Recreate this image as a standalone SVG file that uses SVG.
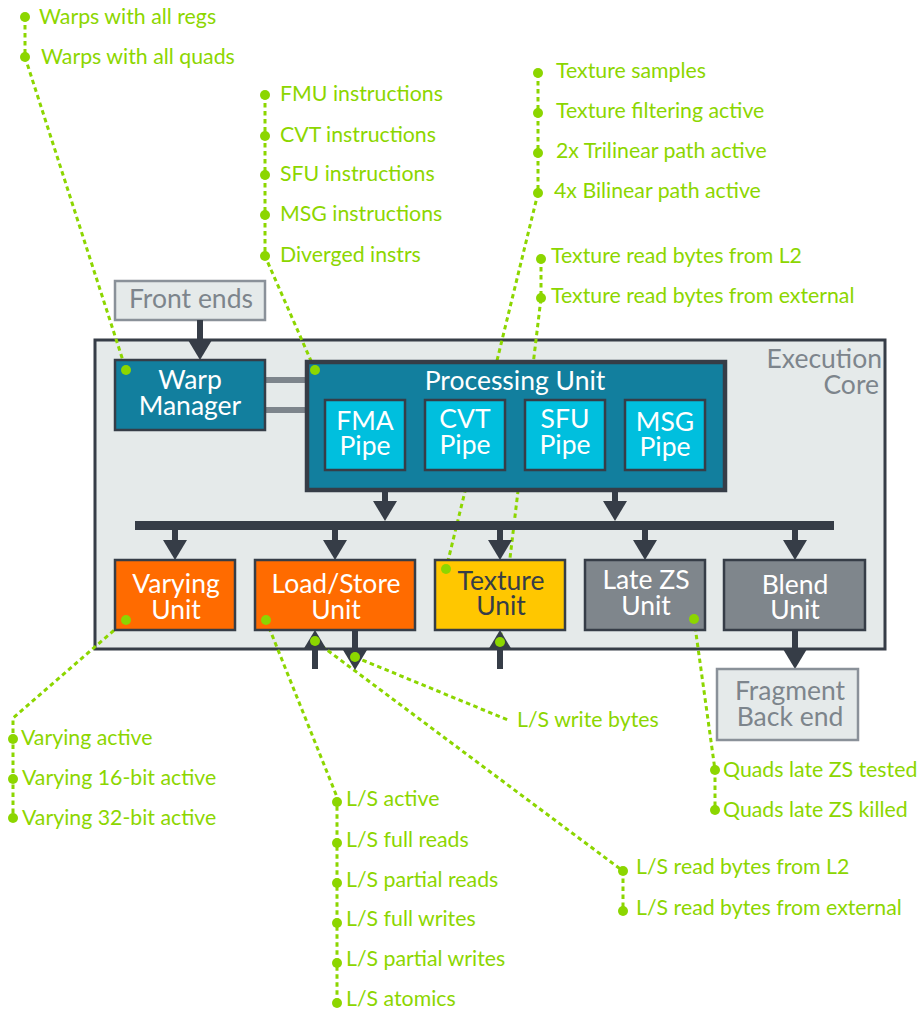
<svg xmlns="http://www.w3.org/2000/svg" width="918" height="1011" viewBox="0 0 918 1011">
<style>
.lbl{font-family:Lato,"Liberation Sans",sans-serif;font-size:21.3px;fill:#8cd600}
.bt{font-family:Lato,"Liberation Sans",sans-serif;font-size:26.5px;text-anchor:middle}
.w{fill:#ffffff}.g{fill:#7d858c}.d{fill:#363d47}
.lead{fill:none;stroke:#8cd600;stroke-width:3;stroke-dasharray:4.5 3.5}
.dot{fill:#8cd600}
.box{stroke:#363d47;stroke-width:2.5}
.light{fill:#e5eaea;stroke:#8a9199;stroke-width:2.5}
.arr{stroke:#363d47;stroke-width:6;fill:none;marker-end:url(#ah)}
</style>
<defs>
<marker id="ah" markerUnits="userSpaceOnUse" viewBox="0 0 20 24" markerWidth="20" markerHeight="24" refX="2" refY="12" orient="auto">
<path d="M0,0 L20,12 L0,24 z" fill="#363d47"/>
</marker>
</defs>
<rect width="918" height="1011" fill="#ffffff"/>

<g id="execution-core">
<rect x="95" y="340" width="790" height="309" fill="#e5eaea" stroke="#363d47" stroke-width="3"/>
<text class="bt g" x="882" y="368" style="text-anchor:end">Execution</text>
<text class="bt g" x="879" y="394" style="text-anchor:end">Core</text>
</g>

<g id="leaders">
<path class="lead" d="M25,17 V57 L126,370"/>
<path class="lead" d="M265,95 V256 L315,370"/>
<path class="lead" d="M538,73 V193 L446,569"/>
<path class="lead" d="M541,259 V298 L500,642"/>
<path class="lead" d="M126,620 L13,718 V818"/>
<path class="lead" d="M266,620 L337,797 V1003"/>
<path class="lead" d="M315,641 L623,871 V911"/>
<path class="lead" d="M355,657 L508,720"/>
<path class="lead" d="M694,619 L715,770 V810"/>
</g>

<g id="front-ends">
<rect class="light" x="115" y="281" width="150" height="39"/>
<text class="bt g" x="191" y="308">Front ends</text>
</g>

<g id="connectors">
<rect x="265" y="377" width="40" height="6" fill="#7d858c"/>
<rect x="265" y="407" width="40" height="6" fill="#7d858c"/>
<rect x="135" y="521" width="699" height="9" fill="#363d47"/>
<line class="arr" x1="200" y1="320" x2="200" y2="342"/>
<line class="arr" x1="385" y1="490" x2="385" y2="503"/>
<line class="arr" x1="615" y1="490" x2="615" y2="503"/>
<line class="arr" x1="175" y1="529" x2="175" y2="542"/>
<line class="arr" x1="335" y1="529" x2="335" y2="542"/>
<line class="arr" x1="500" y1="529" x2="500" y2="542"/>
<line class="arr" x1="645" y1="529" x2="645" y2="542"/>
<line class="arr" x1="795" y1="529" x2="795" y2="542"/>
<line class="arr" x1="315" y1="669" x2="315" y2="648"/>
<line class="arr" x1="355" y1="630" x2="355" y2="652"/>
<line class="arr" x1="500" y1="669" x2="500" y2="648"/>
<line class="arr" x1="795" y1="630" x2="795" y2="651"/>
</g>

<g id="warp-manager">
<rect class="box" x="115" y="360" width="150" height="70" fill="#127f9e"/>
<text class="bt w" x="190" y="389">Warp</text>
<text class="bt w" x="190" y="415">Manager</text>
</g>

<g id="processing-unit">
<rect x="307" y="362" width="418" height="128" fill="#127f9e" stroke="#363d47" stroke-width="4.5"/>
<text class="bt w" x="515" y="390">Processing Unit</text>
</g>
<g id="fma-pipe">
<rect class="box" x="325" y="400" width="80" height="70" fill="#00bfde"/>
<text class="bt w" x="365" y="430">FMA</text><text class="bt w" x="365" y="455">Pipe</text>
</g>
<g id="cvt-pipe">
<rect class="box" x="425" y="400" width="80" height="70" fill="#00bfde"/>
<text class="bt w" x="465" y="428">CVT</text><text class="bt w" x="465" y="454">Pipe</text>
</g>
<g id="sfu-pipe">
<rect class="box" x="525" y="400" width="80" height="70" fill="#00bfde"/>
<text class="bt w" x="565" y="428">SFU</text><text class="bt w" x="565" y="454">Pipe</text>
</g>
<g id="msg-pipe">
<rect class="box" x="625" y="400" width="80" height="70" fill="#00bfde"/>
<text class="bt w" x="665" y="431">MSG</text><text class="bt w" x="665" y="456">Pipe</text>
</g>

<g id="varying-unit">
<rect class="box" x="115" y="560" width="120" height="70" fill="#ff6b00"/>
<text class="bt w" x="176" y="593">Varying</text><text class="bt w" x="176" y="619">Unit</text>
</g>
<g id="load-store-unit">
<rect class="box" x="255" y="560" width="160" height="70" fill="#ff6b00"/>
<text class="bt w" x="336" y="593">Load/Store</text><text class="bt w" x="336" y="619">Unit</text>
</g>
<g id="texture-unit">
<rect class="box" x="435" y="560" width="130" height="70" fill="#ffc700"/>
<text class="bt d" x="501" y="590">Texture</text><text class="bt d" x="501" y="615">Unit</text>
</g>
<g id="late-zs-unit">
<rect class="box" x="585" y="560" width="120" height="70" fill="#7f868c"/>
<text class="bt w" x="646" y="589">Late ZS</text><text class="bt w" x="646" y="615">Unit</text>
</g>
<g id="blend-unit">
<rect class="box" x="724" y="560" width="141" height="70" fill="#7f868c"/>
<text class="bt w" x="795" y="594">Blend</text><text class="bt w" x="795" y="619">Unit</text>
</g>
<g id="fragment-back-end">
<rect class="light" x="717" y="669" width="141" height="71"/>
<text class="bt g" x="790" y="700">Fragment</text><text class="bt g" x="790" y="726">Back end</text>
</g>

<g id="dots">
<circle class="dot" cx="25" cy="17" r="5"/><circle class="dot" cx="25" cy="57" r="5"/>
<circle class="dot" cx="126" cy="370" r="5"/>
<circle class="dot" cx="265" cy="95" r="5"/><circle class="dot" cx="265" cy="136" r="5"/><circle class="dot" cx="265" cy="175" r="5"/><circle class="dot" cx="265" cy="215" r="5"/><circle class="dot" cx="265" cy="256" r="5"/>
<circle class="dot" cx="315" cy="370" r="5"/>
<circle class="dot" cx="538" cy="73" r="5"/><circle class="dot" cx="538" cy="113" r="5"/><circle class="dot" cx="538" cy="153" r="5"/><circle class="dot" cx="538" cy="193" r="5"/>
<circle class="dot" cx="541" cy="259" r="5"/><circle class="dot" cx="541" cy="298" r="5"/>
<circle class="dot" cx="446" cy="569" r="5"/>
<circle class="dot" cx="500" cy="642" r="5"/>
<circle class="dot" cx="126" cy="620" r="5"/>
<circle class="dot" cx="266" cy="620" r="5"/>
<circle class="dot" cx="315" cy="641" r="5"/>
<circle class="dot" cx="355" cy="657" r="5"/>
<circle class="dot" cx="694" cy="619" r="5"/>
<circle class="dot" cx="13" cy="739" r="5"/><circle class="dot" cx="13" cy="779" r="5"/><circle class="dot" cx="13" cy="818" r="5"/>
<circle class="dot" cx="337" cy="802" r="5"/><circle class="dot" cx="337" cy="843" r="5"/><circle class="dot" cx="337" cy="883" r="5"/><circle class="dot" cx="337" cy="923" r="5"/><circle class="dot" cx="337" cy="963" r="5"/><circle class="dot" cx="337" cy="1003" r="5"/>
<circle class="dot" cx="715" cy="770" r="5"/><circle class="dot" cx="715" cy="810" r="5"/>
<circle class="dot" cx="623" cy="871" r="5"/><circle class="dot" cx="623" cy="911" r="5"/>
</g>

<g id="warp-counters">
<text class="lbl" x="39" y="24">Warps with all regs</text>
<text class="lbl" x="41" y="64">Warps with all quads</text>
</g>
<g id="instruction-counters">
<text class="lbl" x="280" y="101">FMU instructions</text>
<text class="lbl" x="280" y="142">CVT instructions</text>
<text class="lbl" x="280" y="181">SFU instructions</text>
<text class="lbl" x="280" y="221">MSG instructions</text>
<text class="lbl" x="280" y="262">Diverged instrs</text>
</g>
<g id="texture-counters">
<text class="lbl" x="556" y="78">Texture samples</text>
<text class="lbl" x="556" y="118">Texture filtering active</text>
<text class="lbl" x="556" y="158">2x Trilinear path active</text>
<text class="lbl" x="554" y="198">4x Bilinear path active</text>
<text class="lbl" x="551" y="263">Texture read bytes from L2</text>
<text class="lbl" x="551" y="303">Texture read bytes from external</text>
</g>
<g id="varying-counters">
<text class="lbl" x="21" y="745">Varying active</text>
<text class="lbl" x="22" y="785">Varying 16-bit active</text>
<text class="lbl" x="22" y="825">Varying 32-bit active</text>
</g>
<g id="ls-counters">
<text class="lbl" x="517" y="727">L/S write bytes</text>
<text class="lbl" x="346" y="806">L/S active</text>
<text class="lbl" x="346" y="847">L/S full reads</text>
<text class="lbl" x="346" y="887">L/S partial reads</text>
<text class="lbl" x="346" y="926">L/S full writes</text>
<text class="lbl" x="346" y="966">L/S partial writes</text>
<text class="lbl" x="346" y="1006">L/S atomics</text>
<text class="lbl" x="636" y="874">L/S read bytes from L2</text>
<text class="lbl" x="636" y="915">L/S read bytes from external</text>
</g>
<g id="zs-counters">
<text class="lbl" x="723" y="777">Quads late ZS tested</text>
<text class="lbl" x="723" y="817">Quads late ZS killed</text>
</g>
</svg>
